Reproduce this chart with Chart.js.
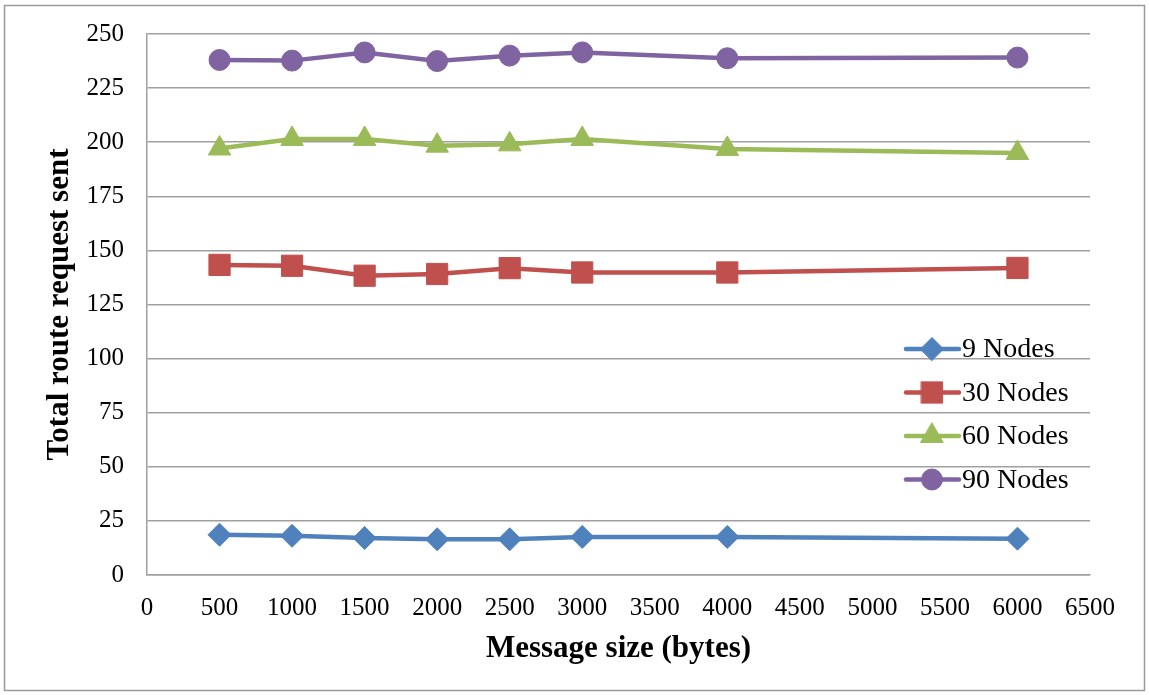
<!DOCTYPE html>
<html>
<head>
<meta charset="utf-8">
<script src="https://cdn.jsdelivr.net/npm/chart.js@4.4.0/dist/chart.umd.min.js"></script>
<style>
  html, body { margin: 0; padding: 0; background: #fff; }
  #wrap { width: 1149px; height: 695px; position: relative; }
</style>
</head>
<body>
<div id="wrap"><canvas id="routeChart" width="1149" height="695"></canvas></div>
<script>
// Datos
const messageSizes = [500, 1000, 1500, 2000, 2500, 3000, 4000, 6000];
const nodes9  = [18.6, 18.1, 17.1, 16.5, 16.5, 17.6, 17.6, 16.8];
const nodes30 = [143.3, 142.9, 138.3, 139.1, 141.8, 139.8, 139.8, 141.9];
const nodes60 = [197.1, 201.5, 201.5, 198.4, 199.0, 201.5, 196.9, 195.0];
const nodes90 = [238.0, 237.7, 241.5, 237.5, 240.0, 241.5, 238.8, 239.1];
const seriesLabels = ['9 Nodes', '30 Nodes', '60 Nodes', '90 Nodes'];
const xTitle = 'Message size (bytes)';
const yTitle = 'Total route request sent';

const serif = '"Liberation Serif", "Times New Roman", serif';
const gridGray = '#a0a0a0';

function toPoints(values) {
    return messageSizes.map((x, i) => ({ x: x, y: values[i] }));
}

function makeSeries(label, values, color, style, radius) {
    return {
        label: label,
        data: toPoints(values),
        borderColor: color,
        backgroundColor: color,
        borderWidth: 4.5,
        pointStyle: style,
        pointRadius: radius,
        pointHoverRadius: radius,
        pointBorderWidth: 1,
        tension: 0
    };
}

// Marco gris alrededor de todo
const frame = {
    id: 'frame',
    beforeDraw(chart) {
        const ctx = chart.ctx;
        ctx.save();
        ctx.fillStyle = '#fff';
        ctx.fillRect(0, 0, chart.width, chart.height);
        ctx.strokeStyle = '#9a9a9a';
        ctx.lineWidth = 1.5;
        ctx.strokeRect(4.5, 5.5, chart.width - 9, chart.height - 10);
        ctx.restore();
    }
};

// Leyenda dentro del área del gráfico
const insideLegend = {
    id: 'insideLegend',
    afterDraw(chart) {
        const ctx = chart.ctx;
        ctx.save();
        chart.data.datasets.forEach((ds, i) => {
            const y = 349 + i * 43.5;
            ctx.strokeStyle = ds.borderColor;
            ctx.fillStyle = ds.backgroundColor;
            ctx.lineWidth = 4.5;
            ctx.lineCap = 'round';
            ctx.beginPath();
            ctx.moveTo(906, y);
            ctx.lineTo(959, y);
            ctx.stroke();
            ctx.lineWidth = 1;
            Chart.helpers.drawPoint(ctx, {
                pointStyle: ds.pointStyle,
                radius: ds.pointRadius,
                rotation: 0,
                borderWidth: 1
            }, 932, y);
            ctx.fillStyle = '#000';
            ctx.font = '28px ' + serif;
            ctx.textAlign = 'left';
            ctx.textBaseline = 'middle';
            ctx.fillText(ds.label, 962, y + 1);
        });
        ctx.restore();
    }
};

const ctx = document.getElementById('routeChart').getContext('2d');

new Chart(ctx, {
    type: 'line',
    data: {
        datasets: [
            makeSeries(seriesLabels[0], nodes9, '#4F81BD', 'rectRot', 11.5),
            makeSeries(seriesLabels[1], nodes30, '#C0504D', 'rect', 15),
            makeSeries(seriesLabels[2], nodes60, '#9BBB59', 'triangle', 13),
            makeSeries(seriesLabels[3], nodes90, '#8064A2', 'circle', 10.5)
        ]
    },
    options: {
        responsive: false,
        animation: false,
        layout: { padding: { top: 34, right: 59, bottom: 0, left: 0 } },
        plugins: {
            legend: { display: false },
            tooltip: { enabled: false }
        },
        scales: {
            x: {
                type: 'linear',
                min: 0,
                max: 6500,
                afterFit: (scale) => {
                    scale.height = 120;
                    scale.paddingLeft = 0;
                    scale.paddingRight = 0;
                },
                ticks: {
                    stepSize: 500,
                    padding: 18,
                    maxRotation: 0,
                    color: '#000',
                    font: { family: serif, size: 25 },
                    callback: (value) => String(value)
                },
                grid: {
                    drawOnChartArea: false,
                    drawTicks: false,
                    color: gridGray,
                    lineWidth: 1.5
                },
                border: { color: gridGray, width: 1.5 },
                title: {
                    display: true,
                    text: xTitle,
                    color: '#000',
                    padding: { top: 0, bottom: 27 },
                    font: { family: serif, size: 31, weight: 'bold' }
                }
            },
            y: {
                min: 0,
                max: 250,
                afterFit: (scale) => {
                    scale.width = 147;
                    scale.paddingTop = 0;
                    scale.paddingBottom = 0;
                },
                ticks: {
                    stepSize: 25,
                    padding: 23,
                    color: '#000',
                    font: { family: serif, size: 25 },
                    callback: (value) => String(value)
                },
                grid: {
                    drawTicks: false,
                    color: gridGray,
                    lineWidth: 1.5
                },
                border: { color: gridGray, width: 1.5 },
                title: {
                    display: true,
                    text: yTitle,
                    color: '#000',
                    padding: { top: 41, bottom: 0 },
                    font: { family: serif, size: 31, weight: 'bold' }
                }
            }
        }
    },
    plugins: [frame, insideLegend]
});
</script>
</body>
</html>
